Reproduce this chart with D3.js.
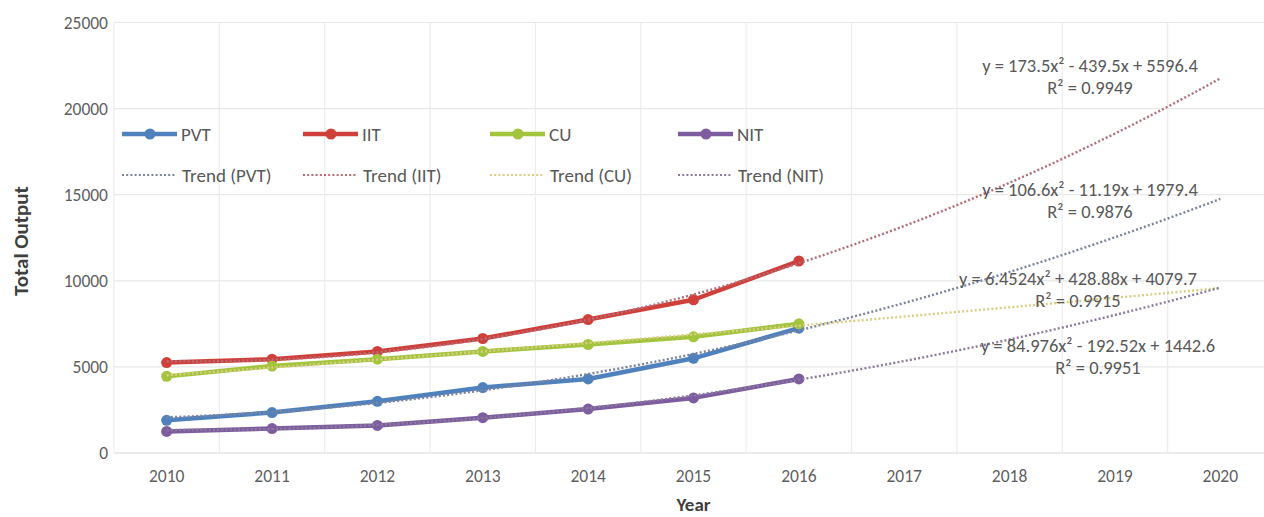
<!DOCTYPE html>
<html>
<head>
<meta charset="utf-8">
<script src="https://cdn.jsdelivr.net/npm/d3@7"></script>
<style>
  html, body { margin: 0; padding: 0; background: #ffffff; overflow: hidden; }
  svg { display: block; font-family: Carlito, Lato, "Liberation Sans", sans-serif; }
</style>
</head>
<body>
<svg id="chart" width="1264" height="517"></svg>
<script>
// Year categories (2017-2020 are forecast only)
const years = ["2010", "2011", "2012", "2013", "2014", "2015", "2016", "2017", "2018", "2019", "2020"];
const yTicks = [0, 5000, 10000, 15000, 20000, 25000];

// Observed totals, 2010-2016
const seriesNames = ["PVT", "IIT", "CU", "NIT"];
const pvt = [1900, 2350, 3000, 3800, 4300, 5500, 7250];
const iit = [5250, 5450, 5900, 6650, 7750, 8900, 11150];
const cu  = [4450, 5050, 5450, 5900, 6300, 6750, 7500];
const nit = [1250, 1420, 1600, 2050, 2550, 3200, 4300];

// Polynomial (order 2) trend coefficients: y = a x^2 + b x + c, x = 1 for 2010
const trendA = [106.6, 173.5, 6.4524, 84.976];
const trendB = [-11.19, -439.5, 428.88, -192.52];
const trendC = [1979.4, 5596.4, 4079.7, 1442.6];
const trendR2 = ["0.9876", "0.9949", "0.9915", "0.9951"];
const trendEq = [
  "y = 106.6x² - 11.19x + 1979.4",
  "y = 173.5x² - 439.5x + 5596.4",
  "y = 6.4524x² + 428.88x + 4079.7",
  "y = 84.976x² - 192.52x + 1442.6"
];

const lineColors  = ["#4f81bd", "#d0403b", "#a3c43d", "#7d5c9f"];
const trendColors = ["#7b839e", "#b56b78", "#d9cd84", "#8b7a9c"];
// label anchor (centre x, first-line y) for each trend equation
const eqPos = [[1090, 196], [1090, 72], [1078, 285], [1098, 352]];

const values = [pvt, iit, cu, nit];

const svg = d3.select("#chart");
const plotL = 114, plotR = 1273, plotT = 22.5, plotB = 453;

const x = d3.scaleBand().domain(years).range([plotL, plotR]).padding(0);
const cx = d => x(d) + x.bandwidth() / 2;
const xNum = d3.scaleLinear().domain([1, years.length]).range([cx(years[0]), cx(years[years.length - 1])]);
const y = d3.scaleLinear().domain([0, 25000]).range([plotB, plotT]);

// grid
const grid = svg.append("g");
grid.selectAll("line.h").data(yTicks).join("line")
  .attr("x1", plotL).attr("x2", plotR)
  .attr("y1", d => y(d)).attr("y2", d => y(d))
  .attr("stroke", d => d === 0 ? "#dadada" : "#e9e7e7").attr("stroke-width", 1.2);
grid.selectAll("line.v").data(years.map(d => x(d)).concat([plotR])).join("line")
  .attr("x1", d => d).attr("x2", d => d)
  .attr("y1", plotT).attr("y2", plotB)
  .attr("stroke", "#eeebeb").attr("stroke-width", 1.2);

// y axis tick labels
const yAxis = d3.axisLeft(y).tickValues(yTicks).tickSize(0).tickPadding(0).tickFormat(d3.format("d"));
const ya = svg.append("g").attr("transform", `translate(${plotL - 6},0)`).call(yAxis);
ya.select(".domain").remove();
ya.selectAll("text").attr("font-size", 17.5).attr("fill", "#5f5f5f")
  .attr("font-family", "Carlito, Lato, sans-serif");

// x axis tick labels
const xAxis = d3.axisBottom(x).tickSize(0).tickPadding(0);
const xa = svg.append("g").attr("transform", `translate(0,${plotB + 17})`).call(xAxis);
xa.select(".domain").remove();
xa.selectAll("text").attr("font-size", 17.5).attr("fill", "#5f5f5f")
  .attr("font-family", "Carlito, Lato, sans-serif");

// axis titles
svg.append("text").attr("x", (plotL + plotR) / 2).attr("y", 511)
  .attr("text-anchor", "middle").attr("font-size", 19).attr("font-weight", "bold")
  .attr("fill", "#404040").text("Year");
svg.append("text").attr("transform", "translate(28,241) rotate(-90)")
  .attr("text-anchor", "middle").attr("font-size", 21).attr("font-weight", "bold")
  .attr("fill", "#404040").text("Total Output");

// series lines and markers
const line = d3.line().x((d, i) => cx(years[i])).y(d => y(d));
values.forEach((vals, s) => {
  const g = svg.append("g");
  g.append("path").datum(vals).attr("d", line)
    .attr("fill", "none").attr("stroke", lineColors[s]).attr("stroke-width", 4.5)
    .attr("stroke-linejoin", "round");
  g.selectAll("circle").data(vals).join("circle")
    .attr("cx", (d, i) => cx(years[i])).attr("cy", d => y(d)).attr("r", 5.5)
    .attr("fill", lineColors[s]);
});

// trend curves, evaluated from the fitted coefficients over x = 1..11
const tSteps = d3.range(1, years.length + 0.001, 0.1);
const trendLine = d3.line().x(d => xNum(d[0])).y(d => y(d[1]));
seriesNames.forEach((n, s) => {
  const pts = tSteps.map(t => [t, trendA[s] * t * t + trendB[s] * t + trendC[s]]);
  svg.append("path").datum(pts).attr("d", trendLine)
    .attr("fill", "none").attr("stroke", trendColors[s]).attr("stroke-width", 2.4)
    .attr("stroke-dasharray", "2,2.2");
});

// trend equations
seriesNames.forEach((n, s) => {
  const t = svg.append("text").attr("text-anchor", "middle")
    .attr("font-size", 18.5).attr("fill", "#595959");
  t.append("tspan").attr("x", eqPos[s][0]).attr("y", eqPos[s][1]).text(trendEq[s]);
  t.append("tspan").attr("x", eqPos[s][0]).attr("y", eqPos[s][1] + 22).text("R² = " + trendR2[s]);
});

// legend
const legX = [122, 303, 490, 678];
const legend = svg.append("g");
seriesNames.forEach((n, s) => {
  const lx = legX[s];
  legend.append("line").attr("x1", lx).attr("x2", lx + 55).attr("y1", 134).attr("y2", 134)
    .attr("stroke", lineColors[s]).attr("stroke-width", 4.5);
  legend.append("circle").attr("cx", lx + 28).attr("cy", 134).attr("r", 5.5).attr("fill", lineColors[s]);
  legend.append("text").attr("x", lx + 59).attr("y", 140.5).attr("font-size", 19)
    .attr("fill", "#595959").text(n);
  legend.append("line").attr("x1", lx).attr("x2", lx + 53).attr("y1", 175).attr("y2", 175)
    .attr("stroke", trendColors[s]).attr("stroke-width", 2.2).attr("stroke-dasharray", "2,2.2");
  legend.append("text").attr("x", lx + 60).attr("y", 181.5).attr("font-size", 19)
    .attr("fill", "#595959").text("Trend (" + n + ")");
});
</script>
</body>
</html>
